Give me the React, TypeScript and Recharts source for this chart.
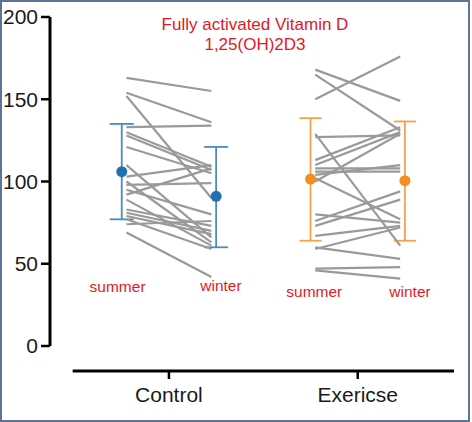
import { ScatterChart, Scatter, XAxis, YAxis, ErrorBar, ReferenceLine, ReferenceDot } from "recharts";

// categories / ticks
const groups = ["Control", "Exericse"];
const groupPos = [1, 3];
const yTicks = [0, 50, 100, 150, 200];

// individual subjects (summer -> winter)
const controlSummer = [163, 154, 152, 133, 130, 128, 121, 110, 103, 100, 98, 95, 92, 89, 83, 81, 79, 77, 74, 69];
const controlWinter = [155, 136, 90, 134, 109, 107, 105, 66, 110, 63, 99, 80, 108, 61, 73, 70, 68, 59, 76, 42];
const exerciseSummer = [168, 165, 150, 129, 127, 113, 110, 108, 106, 104, 102, 80, 76, 73, 67, 59, 60, 47, 46, 100];
const exerciseWinter = [149, 131, 176, 61, 128, 133, 130, 108, 106, 110, 77, 75, 94, 89, 73, 72, 53, 48, 41, 129];

// group mean and bar ends (summer, winter)
const controlMean = [106, 91];
const controlLow = [77, 60];
const controlHigh = [135, 121];
const exerciseMean = [101.5, 100.5];
const exerciseLow = [64, 64];
const exerciseHigh = [138.5, 136.5];

const X_DOMAIN: [number, number] = [-0.26, 4.02];
const Y_DOMAIN: [number, number] = [-15.2, 200];
const LINE_OFF = 0.45;
const MEAN_OFF = 0.5;
const RED = "#e3191f";
const FONT = "'Liberation Sans', Arial, sans-serif";

const seasonLabels = [
  { x: 0.456, y: 36, text: "summer" },
  { x: 1.551, y: 37, text: "winter" },
  { x: 2.54, y: 33.4, text: "summer" },
  { x: 3.554, y: 33.4, text: "winter" },
];

const NoDot = () => <g />;

function pairs(summer: number[], winter: number[], center: number) {
  return summer.map((s, i) => [
    { x: center - LINE_OFF, y: s },
    { x: center + LINE_OFF, y: winter[i] },
  ]);
}

function meanRows(mean: number[], low: number[], high: number[], center: number) {
  return mean.map((m, i) => ({
    x: center + (i === 0 ? -MEAN_OFF : MEAN_OFF),
    y: m,
    err: [m - low[i], high[i] - m],
  }));
}

const subjects = [
  ...pairs(controlSummer, controlWinter, groupPos[0]),
  ...pairs(exerciseSummer, exerciseWinter, groupPos[1]),
];

const summaries = [
  { rows: meanRows(controlMean, controlLow, controlHigh, groupPos[0]), dot: "#2170b0", bar: "#4b8ac2", cap: 12 },
  { rows: meanRows(exerciseMean, exerciseLow, exerciseHigh, groupPos[1]), dot: "#f38f1f", bar: "#f4a24c", cap: 11 },
];

export default function App() {
  return (
    <div style={{ position: "relative", width: 472, height: 422, background: "#fff" }}>
      <style>{"body{margin:0}"}</style>
      <ScatterChart width={472} height={422} margin={{ top: 17, right: 18, bottom: 11, left: 0 }}>
        <XAxis
          type="number"
          dataKey="x"
          domain={X_DOMAIN}
          ticks={groupPos}
          tickFormatter={(v) => groups[groupPos.indexOf(v)] ?? ""}
          axisLine={false}
          tickLine={{ stroke: "#000", strokeWidth: 2.5 }}
          tickSize={8}
          tickMargin={8}
          height={40}
          allowDataOverflow
          tick={{ fontSize: 21, fill: "#1a1a1a", fontFamily: FONT }}
        />
        <YAxis
          type="number"
          dataKey="y"
          domain={Y_DOMAIN}
          ticks={yTicks}
          axisLine={false}
          tickLine={{ stroke: "#000", strokeWidth: 2.5 }}
          tickSize={9}
          tickMargin={3}
          width={50}
          allowDataOverflow
          tick={{ fontSize: 21, fill: "#1a1a1a", fontFamily: FONT }}
        />
        <ReferenceLine
          segment={[{ x: X_DOMAIN[0], y: 0 }, { x: X_DOMAIN[0], y: 200 }]}
          stroke="#000"
          strokeWidth={3}
          ifOverflow="visible"
        />
        <ReferenceLine
          segment={[{ x: -0.02, y: Y_DOMAIN[0] }, { x: X_DOMAIN[1], y: Y_DOMAIN[0] }]}
          stroke="#000"
          strokeWidth={3}
          ifOverflow="visible"
        />
        {subjects.map((pts, i) => (
          <Scatter
            key={"s" + i}
            data={pts}
            line={{ stroke: "#9a9a9a", strokeWidth: 2.2 }}
            shape={NoDot}
            isAnimationActive={false}
          />
        ))}
        {summaries.map((g, i) => (
          <Scatter
            key={"m" + i}
            data={g.rows}
            fill={g.dot}
            isAnimationActive={false}
            shape={(p: any) => <circle cx={p.cx} cy={p.cy} r={5.5} fill={g.dot} />}
          >
            <ErrorBar dataKey="err" direction="y" width={g.cap} stroke={g.bar} strokeWidth={1.8} />
          </Scatter>
        ))}
        {seasonLabels.map((l, i) => (
          <ReferenceDot
            key={"l" + i}
            x={l.x}
            y={l.y}
            r={0}
            fill="none"
            stroke="none"
            ifOverflow="visible"
            label={{ value: l.text, position: "center", fill: RED, fontSize: 15.5, fontFamily: FONT }}
          />
        ))}
      </ScatterChart>
      <div
        style={{
          position: "absolute",
          left: 155,
          top: 15,
          width: 200,
          textAlign: "center",
          color: RED,
          fontSize: 17,
          lineHeight: "20px",
          fontFamily: FONT,
        }}
      >
        Fully activated Vitamin D
        <br />
        1,25(OH)2D3
      </div>
      <div
        style={{
          position: "absolute",
          left: 0,
          top: 0,
          width: 470,
          height: 422,
          boxSizing: "border-box",
          border: "2.5px solid #5f7399",
          pointerEvents: "none",
        }}
      />
    </div>
  );
}
